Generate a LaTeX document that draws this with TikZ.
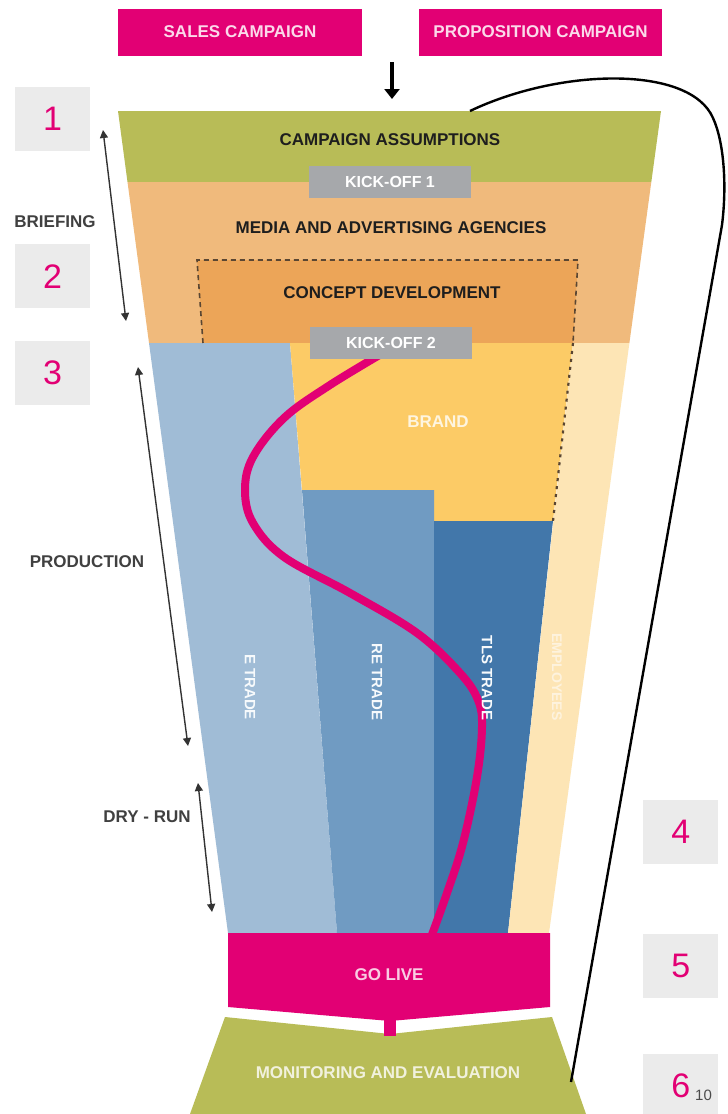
\documentclass[tikz,border=0pt]{standalone}
\usepackage{fontspec}
\setmainfont{Liberation Sans}
\usetikzlibrary{arrows.meta}
\definecolor{mag}{HTML}{E20074}
\definecolor{olive}{HTML}{B8BC57}
\definecolor{lorange}{HTML}{F0BA7C}
\definecolor{dorange}{HTML}{ECA558}
\definecolor{kogray}{HTML}{A6A8AB}
\definecolor{numgray}{HTML}{EBEBEB}
\definecolor{lblue}{HTML}{A0BCD6}
\definecolor{mblue}{HTML}{709BC2}
\definecolor{dblue}{HTML}{4277AA}
\definecolor{brandy}{HTML}{FCCB66}
\definecolor{cream}{HTML}{FDE5B5}
\definecolor{txtdark}{HTML}{1E1E1E}
\definecolor{arrgray}{HTML}{333333}
\definecolor{dashc}{HTML}{5A4632}
\begin{document}
\begin{tikzpicture}[x=1pt,y=-1pt,
  lbl/.style={font=\fontsize{17}{17}\selectfont\bfseries, inner sep=0pt, text=txtdark},
  rlbl/.style={font=\fontsize{15}{15}\selectfont\bfseries, inner sep=0pt, text=white!92!lblue, rotate=-90},
  magbox/.style={fill=mag, minimum height=47pt, inner sep=0pt, text=white!85!mag, font=\fontsize{17}{17}\selectfont\bfseries},
  kobox/.style={fill=kogray, minimum width=162pt, minimum height=32pt, inner sep=0pt, text=white, font=\fontsize{16}{16}\selectfont\bfseries},
  numbox/.style={fill=numgray, minimum width=75pt, minimum height=64pt, inner sep=0pt, text=mag, font=\fontsize{34}{34}\selectfont},
  dblarrow/.style={draw=arrgray, line width=1.4pt, {Triangle[width=8pt,length=8pt]}-{Triangle[width=8pt,length=8pt]}},
  sidelbl/.style={font=\fontsize{17}{17}\selectfont\bfseries, inner sep=0pt, text=txtdark!85!white}
]
\useasboundingbox (0,0) rectangle (728,1114);
\fill[white] (0,0) rectangle (728,1114);

% top campaign boxes
\node[magbox, minimum width=244pt] (sales) at (240,32) {SALES CAMPAIGN};
\node[magbox, minimum width=243pt] (prop) at (540.5,32) {PROPOSITION CAMPAIGN};

% number boxes
\node[numbox, anchor=north west] (n1) at (15,87) {1};
\node[numbox, anchor=north west] (n2) at (15,244) {2};
\node[numbox, anchor=north west] (n3) at (15,341) {3};
\node[numbox, anchor=north west] (n4) at (643,800) {4};
\node[numbox, anchor=north west] (n5) at (643,934) {5};
\node[numbox, anchor=north west] (n6) at (643,1054) {6};
\node[anchor=base west, inner sep=0pt, font=\fontsize{15}{15}\selectfont, text=txtdark!80!white] (ten) at (695,1100) {10};

% funnel layers
\fill[olive] (118,111) -- (661,111) -- (651.3,182) -- (127.5,182) -- cycle;
\fill[lorange] (127.5,182) -- (651.3,182) -- (629.4,343) -- (149,343) -- cycle;
\fill[dorange] (197,260) -- (578,260) -- (573,343) -- (203,343) -- cycle;
\node[kobox] (ko1) at (390,181.5) {KICK-OFF 1};

% production area
\fill[lblue] (149,343) -- (290,343) -- (337,933) -- (228,933) -- cycle;
\fill[brandy] (290,343) -- (573,343) -- (553,521) -- (434,521) -- (434,490) -- (302,490) -- cycle;
\fill[mblue] (302,490) -- (434,490) -- (434,933) -- (337,933) -- cycle;
\fill[dblue] (434,521) -- (553,521) -- (508,933) -- (434,933) -- cycle;
\fill[cream] (573,343) -- (629.4,343) -- (549,933) -- (508,933) -- cycle;

% dashed concept box and dotted continuation
\draw[dashc, line width=1.6pt, dash pattern=on 5pt off 4pt] (203,343) -- (197,260) -- (578,260) -- (573,343);
\draw[dashc, line width=2.2pt, dash pattern=on 3pt off 5pt] (573,343) -- (553,521);

% magenta path
\draw[mag, line width=8pt, line cap=round] plot[smooth, tension=0.6] coordinates {(388,350) (330,385) (284,418) (253,457) (245,490) (253,523) (284,557) (350,593) (417,633) (460,673) (478,700) (482,727) (477,777) (463,843) (447,893) (430,940)};

\node[kobox] (ko2) at (391,342.5) {KICK-OFF 2};

% go live and monitoring
\fill[mag] (228,933) -- (550,933) -- (550,1007) -- (390,1021) -- (228,1007) -- cycle;
\fill[olive] (225,1017) -- (390,1034) -- (552,1017) -- (586,1114) -- (190,1114) -- cycle;
\fill[mag] (384,1016) rectangle (396,1036);

% labels
\node[lbl] (ca) at (390,140) {CAMPAIGN ASSUMPTIONS};
\node[lbl] (media) at (391,228) {MEDIA AND ADVERTISING AGENCIES};
\node[lbl] (concept) at (392,293) {CONCEPT DEVELOPMENT};
\node[lbl, text=white!80!brandy] (brand) at (438,422) {BRAND};
\node[rlbl] (etrade) at (250,687) {E TRADE};
\node[rlbl] (retrade) at (377,682) {RE TRADE};
\node[rlbl] (tls) at (487,678) {TLS TRADE};
\node[rlbl, text=white!55!cream, font=\fontsize{14}{14}\selectfont\bfseries] (empl) at (557,677) {EMPLOYEES};
\node[lbl, text=white!80!mag] (golive) at (389,975) {GO LIVE};
\node[lbl, text=white!80!olive] (monit) at (388,1073) {MONITORING AND EVALUATION};

% side labels
\node[sidelbl] (brief) at (55,222) {BRIEFING};
\node[sidelbl] (prod) at (87,562) {PRODUCTION};
\node[sidelbl] (dry) at (147,817) {DRY - RUN};

% side arrows
\coordinate (b1) at (103,130);
\coordinate (b2) at (126,321);
\coordinate (p1) at (138,367);
\coordinate (p2) at (188,746);
\coordinate (d1) at (198,783);
\coordinate (d2) at (212,912);
\draw[dblarrow] (b1) -- (b2);
\draw[dblarrow] (p1) -- (p2);
\draw[dblarrow] (d1) -- (d2);

% top arrow
\coordinate (atop) at (392,62);
\coordinate (abot) at (392,99);
\draw[black, line width=4.5pt, -{Triangle[width=15pt,length=10pt]}] (atop) -- (abot);

% return loop
\coordinate (l0) at (470,111);
\coordinate (l1) at (713,118);
\coordinate (l2) at (722,225);
\coordinate (l3) at (571,1082);
\draw[black, line width=2.4pt] (l0) .. controls (560,68) and (690,65) .. (l1) .. controls (724,142) and (727,185) .. (l2) -- (l3);
\end{tikzpicture}
\end{document}
